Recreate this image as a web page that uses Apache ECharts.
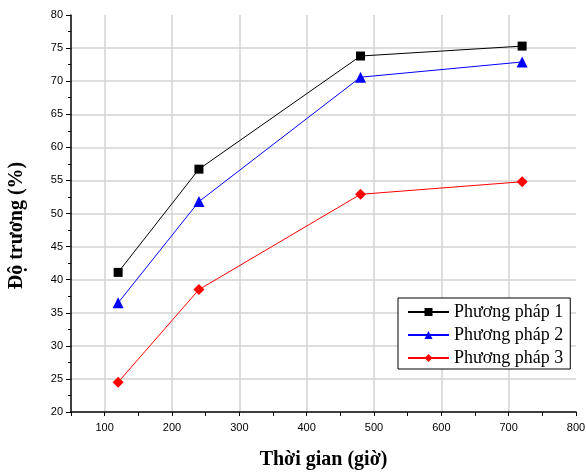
<!DOCTYPE html>
<html lang="vi">

<head>
    <meta charset="UTF-8">
    <title>Độ trương theo thời gian</title>
    <script src="https://cdn.jsdelivr.net/npm/echarts@6/dist/echarts.min.js"></script>
    <style>
        body,
        html {
            margin: 0;
            padding: 0;
            background: #fff;
        }

        #main {
            width: 586px;
            height: 472px;
        }
    </style>
</head>

<body>
    <div id="main"></div>
    <script>
        // số liệu
        var hours = [120, 240, 480, 720];
        var pp1 = [41.1, 56.7, 73.8, 75.3];
        var pp2 = [36.5, 51.8, 70.6, 72.9];
        var pp3 = [24.5, 38.5, 52.9, 54.8];
        var names = ['Phương pháp 1', 'Phương pháp 2', 'Phương pháp 3'];

        function pairs(ys) {
            var arr = [];
            for (var i = 0; i < hours.length; i++) {
                arr.push([hours[i], ys[i]]);
            }
            return arr;
        }

        var serif = '"Liberation Serif", "DejaVu Serif", serif';
        var sans = '"Liberation Sans", Arial, sans-serif';

        var myChart = echarts.init(document.getElementById('main'));
        var option = {
            animation: false,
            grid: {
                left: 71,
                right: 10,
                top: 15,
                bottom: 60,
                outerBoundsMode: 'none'
            },
            legend: {
                orient: 'vertical',
                left: 398,
                top: 298,
                borderColor: '#000',
                borderWidth: 1,
                borderRadius: 0,
                backgroundColor: '#fff',
                padding: [5, 7, 2, 9],
                itemWidth: 41,
                itemHeight: 10,
                itemGap: 5,
                textStyle: {
                    fontFamily: serif,
                    fontSize: 18,
                    color: '#000'
                },
                data: names
            },
            xAxis: {
                type: 'value',
                min: 50,
                max: 800,
                interval: 50,
                name: 'Thời gian (giờ)',
                nameLocation: 'middle',
                nameGap: 38,
                nameTextStyle: {
                    fontFamily: serif,
                    fontSize: 20,
                    fontWeight: 'bold',
                    color: '#000'
                },
                axisLine: { lineStyle: { color: '#000', width: 1.5 } },
                axisTick: { show: true, length: 4, lineStyle: { color: '#000' } },
                axisLabel: {
                    fontFamily: sans,
                    fontSize: 11,
                    color: '#000',
                    margin: 10,
                    formatter: function (v) {
                        return v % 100 === 0 ? String(v) : '';
                    }
                },
                splitLine: {
                    show: true,
                    showMinLine: true,
                    showMaxLine: false,
                    lineStyle: { color: ['transparent', '#d3d3d3'], width: 1.5 }
                }
            },
            yAxis: {
                type: 'value',
                min: 20,
                max: 80,
                interval: 5,
                name: 'Độ trương (%)',
                nameLocation: 'middle',
                nameGap: 44,
                nameTextStyle: {
                    fontFamily: serif,
                    fontSize: 20,
                    fontWeight: 'bold',
                    color: '#000',
                    padding: [0, 24, 0, 0]
                },
                axisLine: { show: true, lineStyle: { color: '#000', width: 1.5 } },
                axisTick: { show: true, length: 5, lineStyle: { color: '#000' } },
                minorTick: { show: true, splitNumber: 2, length: 3, lineStyle: { color: '#000' } },
                axisLabel: {
                    fontFamily: sans,
                    fontSize: 11,
                    color: '#000',
                    margin: 8
                },
                splitLine: {
                    show: true,
                    showMinLine: false,
                    showMaxLine: false,
                    lineStyle: { color: '#d3d3d3', width: 1.5 }
                }
            },
            series: [
                {
                    name: names[0],
                    type: 'line',
                    data: pairs(pp1),
                    symbol: 'rect',
                    symbolSize: 9,
                    color: '#000000',
                    lineStyle: { width: 1 }
                },
                {
                    name: names[1],
                    type: 'line',
                    data: pairs(pp2),
                    symbol: 'triangle',
                    symbolSize: 11,
                    color: '#0000ff',
                    lineStyle: { width: 1 }
                },
                {
                    name: names[2],
                    type: 'line',
                    data: pairs(pp3),
                    symbol: 'diamond',
                    symbolSize: 11,
                    color: '#ff0000',
                    lineStyle: { width: 1 }
                }
            ]
        };
        myChart.setOption(option);
    </script>
</body>

</html>
